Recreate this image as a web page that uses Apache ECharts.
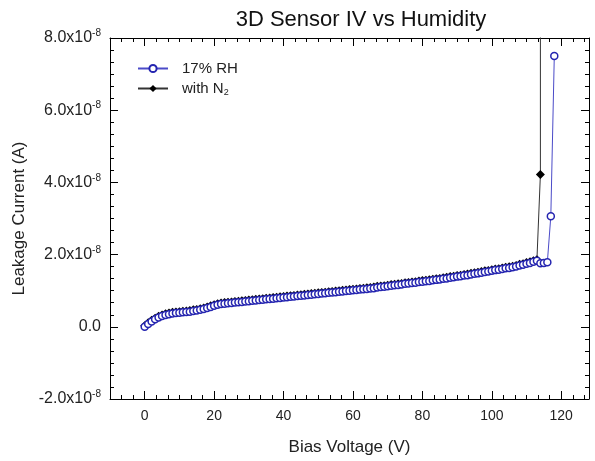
<!DOCTYPE html>
<html>
<head>
<meta charset="utf-8">
<script src="https://cdn.jsdelivr.net/npm/echarts@6/dist/echarts.min.js"></script>
<style>
html,body{margin:0;padding:0;background:#fff;}
#c{width:595px;height:461px;}
</style>
</head>
<body>
<div id="c"></div>
<script>
// Bias voltage (V) for the 17% RH sweep
const voltsRH = [0,1,2,3,4,5,6,7,8,9,10,11,12,13,14,15,16,17,18,19,20,21,22,23,24,25,26,27,28,29,
30,31,32,33,34,35,36,37,38,39,40,41,42,43,44,45,46,47,48,49,50,51,52,53,54,55,56,57,58,59,
60,61,62,63,64,65,66,67,68,69,70,71,72,73,74,75,76,77,78,79,80,81,82,83,84,85,86,87,88,89,
90,91,92,93,94,95,96,97,98,99,100,101,102,103,104,105,106,107,108,109,110,111,112,113,114,115,116,117,118];
// Leakage current (units of 1e-8 A), 17% RH
const currentRH = [0.00,0.08,0.15,0.21,0.26,0.30,0.33,0.35,0.37,0.38,
0.39,0.40,0.41,0.42,0.44,0.45,0.47,0.49,0.52,0.55,
0.58,0.61,0.63,0.64,0.65,0.66,0.67,0.68,0.69,0.70,
0.71,0.72,0.73,0.74,0.75,0.76,0.77,0.78,0.79,0.80,
0.81,0.82,0.83,0.84,0.85,0.86,0.87,0.88,0.89,0.90,
0.91,0.92,0.93,0.94,0.95,0.96,0.97,0.98,0.99,1.00,
1.01,1.02,1.03,1.04,1.05,1.06,1.07,1.09,1.10,1.11,
1.12,1.14,1.15,1.16,1.17,1.19,1.20,1.21,1.22,1.24,
1.25,1.26,1.27,1.29,1.30,1.31,1.33,1.34,1.36,1.37,
1.39,1.40,1.42,1.43,1.45,1.47,1.48,1.50,1.52,1.53,
1.55,1.57,1.58,1.60,1.62,1.63,1.65,1.67,1.70,1.72,
1.75,1.77,1.80,1.83,1.76,1.77,1.79,3.06,7.50];
// Bias voltage (V) for the N2 sweep
const voltsN2 = [0,1,2,3,4,5,6,7,8,9,10,11,12,13,14,15,16,17,18,19,20,21,22,23,24,25,26,27,28,29,
30,31,32,33,34,35,36,37,38,39,40,41,42,43,44,45,46,47,48,49,50,51,52,53,54,55,56,57,58,59,
60,61,62,63,64,65,66,67,68,69,70,71,72,73,74,75,76,77,78,79,80,81,82,83,84,85,86,87,88,89,
90,91,92,93,94,95,96,97,98,99,100,101,102,103,104,105,106,107,108,109,110,111,112,113,114,114];
// Leakage current (units of 1e-8 A), with N2
const currentN2 = [0.03,0.11,0.18,0.24,0.29,0.33,0.36,0.38,0.40,0.41,
0.42,0.43,0.44,0.45,0.47,0.48,0.50,0.52,0.55,0.58,
0.61,0.64,0.66,0.67,0.68,0.69,0.70,0.71,0.72,0.73,
0.74,0.75,0.76,0.77,0.78,0.79,0.80,0.81,0.82,0.83,
0.84,0.85,0.86,0.87,0.88,0.89,0.90,0.91,0.92,0.93,
0.94,0.95,0.96,0.97,0.98,0.99,1.00,1.01,1.02,1.03,
1.04,1.05,1.06,1.07,1.08,1.09,1.10,1.12,1.13,1.14,
1.15,1.17,1.18,1.19,1.20,1.22,1.23,1.24,1.25,1.27,
1.28,1.29,1.30,1.32,1.33,1.34,1.36,1.37,1.39,1.40,
1.42,1.43,1.45,1.46,1.48,1.50,1.51,1.53,1.55,1.56,
1.58,1.60,1.61,1.63,1.65,1.66,1.68,1.70,1.73,1.75,
1.78,1.80,1.83,1.86,4.22,30.0];
// Tick labels
const xTicks = [0,20,40,60,80,100,120];
const yTicks = [-2,0,2,4,6,8];
const seriesNames = ['17% RH','with N2'];

const xMin = -10, xMax = 128;
const xMinor = [];
for (let i = 0; i < xTicks.length; i++) {
  for (let k = -2; k <= 5; k++) {
    if (k === 0) continue;
    const v = xTicks[i] + k * 20 / 6;
    if (v > xMin && v < xMax && (k > 0 || i === 0)) xMinor.push(v);
  }
}

const chart = echarts.init(document.getElementById('c'), null, {renderer:'canvas'});
const font = 'Liberation Sans, Arial, sans-serif';
const axisLine = {show:true, onZero:false, lineStyle:{color:'#000', width:1}};
function xAxisDef(pos, major, label) {
  return {
    type:'value', position:pos, min:xMin, max:xMax,
    axisLine: major ? axisLine : {show:false, onZero:false},
    splitLine:{show:false},
    axisTick:{show:true, inside:true, length: major ? 8 : 4, customValues: major ? xTicks : xMinor, lineStyle:{color:'#000'}},
    axisLabel: label ? {show:true, customValues:xTicks, color:'#222', fontSize:14, fontFamily:font, margin:10} : {show:false},
    name: label ? 'Bias Voltage (V)' : '',
    nameLocation:'middle', nameGap:40,
    nameTextStyle:{fontSize:17, color:'#222', fontFamily:font}
  };
}
function yAxisDef(pos, label) {
  return {
    type:'value', position:pos, min:yTicks[0], max:yTicks[yTicks.length-1], interval:2,
    axisLine: axisLine,
    splitLine:{show:false},
    axisTick:{show:true, inside:true, length:8, lineStyle:{color:'#000'}},
    minorTick:{show:true, splitNumber:6, length:4, lineStyle:{color:'#000'}},
    axisLabel: label ? {
      show:true, margin:9, color:'#222', fontFamily:font,
      formatter: v => v === 0 ? '{m|0.0}' : '{m|' + v.toFixed(1) + 'x10}{s|-8}',
      rich:{ m:{fontSize:16, fontFamily:font, color:'#222'}, s:{fontSize:10, fontFamily:font, color:'#222', padding:[0,0,9,0]} }
    } : {show:false},
    name: label ? 'Leakage Current (A)' : '',
    nameLocation:'middle', nameGap:82, nameRotate:90,
    nameTextStyle:{fontSize:17, color:'#222', fontFamily:font}
  };
}

const option = {
  animation:false,
  backgroundColor:'#fff',
  title:{text:'3D Sensor IV vs Humidity', left:356, top:4, textAlign:'center',
    textStyle:{fontSize:22, fontWeight:'normal', color:'#111', fontFamily:font}},
  grid:{left:110, right:6, top:38, bottom:62, containLabel:false, outerBoundsMode:'none'},
  legend:{
    left:132, top:56, orient:'vertical', itemWidth:30, itemHeight:9, itemGap:5,
    data: seriesNames,
    textStyle:{fontSize:15, color:'#222', fontFamily:font,
      rich:{a:{fontSize:15, color:'#222', fontFamily:font, padding:[0,0,0,9]}, b:{fontSize:9, color:'#222', fontFamily:font, padding:[9,0,0,0]}}},
    formatter: n => n === 'with N2' ? '{a|with N}{b|2}' : '{a|' + n + '}'
  },
  xAxis:[xAxisDef('bottom', true, true), xAxisDef('bottom', false, false), xAxisDef('top', true, false), xAxisDef('top', false, false)],
  yAxis:[yAxisDef('left', true), yAxisDef('right', false)],
  series:[
    {
      name: seriesNames[0], type:'line', xAxisIndex:0, yAxisIndex:0, z:3,
      data: voltsRH.map((v,i) => [v, currentRH[i]]),
      symbol:'circle', symbolSize:7, showAllSymbol:true,
      itemStyle:{color:'#fff', borderColor:'#2525b0', borderWidth:1.5},
      lineStyle:{color:'#4b4bc8', width:1},
      emphasis:{disabled:true}
    },
    {
      name: seriesNames[1], type:'line', xAxisIndex:0, yAxisIndex:0, z:2,
      data: voltsN2.map((v,i) => [v, currentN2[i]]),
      symbol:'diamond', symbolSize:9, showAllSymbol:true, clip:true,
      itemStyle:{color:'#000'},
      lineStyle:{color:'#333', width:1},
      emphasis:{disabled:true}
    }
  ]
};
chart.setOption(option);
</script>
</body>
</html>
